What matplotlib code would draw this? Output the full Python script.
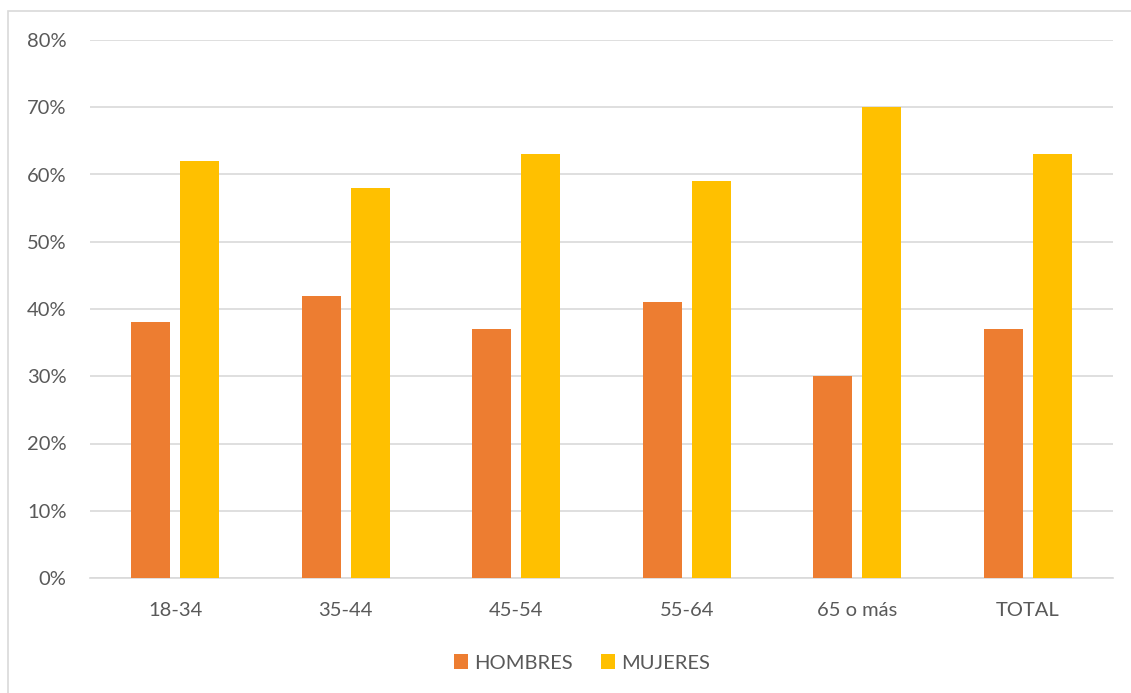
import matplotlib.pyplot as plt
import numpy as np
from matplotlib.patches import Rectangle
from matplotlib.ticker import PercentFormatter

# datos
grupos = ['18-34', '35-44', '45-54', '55-64', '65 o más', 'TOTAL']
hombres = [38, 42, 37, 41, 30, 37]
mujeres = [62, 58, 63, 59, 70, 63]

plt.rcParams['font.family'] = ['Lato', 'DejaVu Sans']
gris = '#595959'

fig = plt.figure(figsize=(11.31, 6.93), dpi=100)
ax = fig.add_axes([90/1131, 1 - 578/693, (1113 - 90)/1131, (578 - 40)/693])

x = np.arange(len(grupos))
ancho = 0.229
ax.bar(x - 0.144, hombres, ancho, color='#ED7D31', label='HOMBRES', zorder=3)
ax.bar(x + 0.144, mujeres, ancho, color='#FFC000', label='MUJERES', zorder=3)

ax.set_xlim(-0.5, len(grupos) - 0.5)
ax.set_ylim(0, 80)
ax.set_yticks(range(0, 81, 10))
ax.yaxis.set_major_formatter(PercentFormatter(decimals=0))
ax.set_xticks(x)
ax.set_xticklabels(grupos)
ax.grid(axis='y', color='#D9D9D9', linewidth=1.2, zorder=0)
for s in ['top', 'right', 'left']:
    ax.spines[s].set_visible(False)
ax.spines['bottom'].set_color('#D9D9D9')
ax.spines['bottom'].set_linewidth(1.2)
ax.tick_params(axis='both', length=0, labelsize=14.5, colors=gris)
ax.tick_params(axis='y', pad=17)
ax.tick_params(axis='x', pad=17)

leg = fig.legend(loc='center', bbox_to_anchor=(582/1131, 1 - 663/693), ncol=2,
                 frameon=False, fontsize=14.5, handlelength=0.7, handleheight=0.7,
                 handletextpad=0.3, columnspacing=1.4)
for t in leg.get_texts():
    t.set_color(gris)

# ramka
fig.patches.append(Rectangle((8/1131, -0.1), 1.2, 1 - 11/693 + 0.1,
                             transform=fig.transFigure, fill=False,
                             edgecolor='#D9D9D9', linewidth=1.2))

plt.savefig('out.png')
